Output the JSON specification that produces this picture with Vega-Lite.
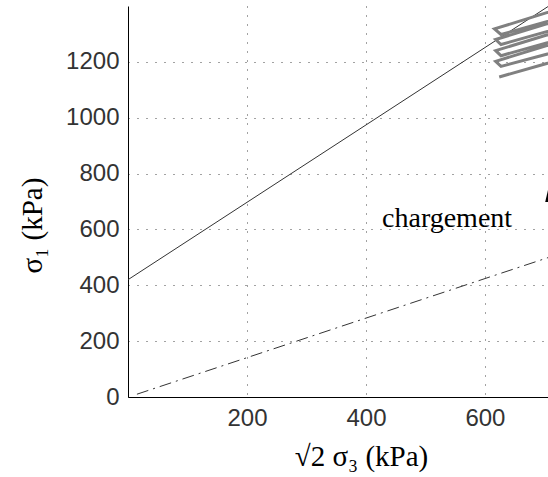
{
  "$schema": "https://vega.github.io/schema/vega-lite/v6.json",
  "width": 420,
  "height": 391,
  "autosize": "none",
  "padding": {"left": 128, "top": 6, "right": 0, "bottom": 80},
  "background": "white",
  "config": {"view": {"stroke": null}},
  "datasets": {
    "solid": [{"x": 0, "y": 420}, {"x": 706, "y": 1398}],
    "dashdot": [{"x": 15, "y": 10}, {"x": 706, "y": 499}],
    "loops": [
      {"o": 1, "x": 624, "y": 1146},
      {"o": 2, "x": 740, "y": 1216},
      {"o": 3, "x": 740, "y": 1248},
      {"o": 4, "x": 627, "y": 1184},
      {"o": 5, "x": 618, "y": 1202},
      {"o": 6, "x": 740, "y": 1282},
      {"o": 7, "x": 740, "y": 1290},
      {"o": 8, "x": 627, "y": 1222},
      {"o": 9, "x": 618, "y": 1240},
      {"o": 10, "x": 740, "y": 1320},
      {"o": 11, "x": 740, "y": 1330},
      {"o": 12, "x": 627, "y": 1262},
      {"o": 13, "x": 618, "y": 1280},
      {"o": 14, "x": 740, "y": 1360},
      {"o": 15, "x": 740, "y": 1366},
      {"o": 16, "x": 627, "y": 1298},
      {"o": 17, "x": 616, "y": 1318},
      {"o": 18, "x": 740, "y": 1400}
    ],
    "labels": [{"x": 427, "y": 609, "t": "chargement"}],
    "arrow": [{"x": 708, "y": 729}]
  },
  "encoding": {
    "x": {
      "field": "x", "type": "quantitative",
      "scale": {"domain": [0, 706], "nice": false, "zero": false},
      "axis": {
        "values": [200, 400, 600], "format": "d",
        "grid": true, "gridDash": [1, 8], "gridColor": "#444", "gridWidth": 1,
        "ticks": false, "domainColor": "#000", "domainWidth": 1,
        "labelFont": "Liberation Sans Narrow, Liberation Sans", "labelFontSize": 24, "labelColor": "#333",
        "labelPadding": 9,
        "title": "√2 σ₃ (kPa)", "titleFont": "Liberation Serif", "titleFontSize": 29,
        "titleFontWeight": "normal", "titleColor": "#000",
        "titleX": 233, "titleY": 68, "titleBaseline": "alphabetic", "titleAlign": "center"
      }
    },
    "y": {
      "field": "y", "type": "quantitative",
      "scale": {"domain": [0, 1400], "nice": false},
      "axis": {
        "values": [0, 200, 400, 600, 800, 1000, 1200], "format": "d",
        "grid": true, "gridDash": [1, 8], "gridColor": "#444", "gridWidth": 1,
        "ticks": false, "domainColor": "#000", "domainWidth": 1,
        "labelFont": "Liberation Sans Narrow, Liberation Sans", "labelFontSize": 24, "labelColor": "#333",
        "labelPadding": 9,
        "title": "σ₁ (kPa)", "titleFont": "Liberation Serif", "titleFontSize": 29,
        "titleFontWeight": "normal", "titleColor": "#000",
        "titleAngle": -90, "titleX": -96, "titleY": 219,
        "titleAlign": "center", "titleBaseline": "middle"
      }
    }
  },
  "layer": [
    {
      "data": {"name": "solid"},
      "mark": {"type": "line", "color": "#333", "strokeWidth": 1, "clip": true}
    },
    {
      "data": {"name": "dashdot"},
      "mark": {"type": "line", "color": "#333", "strokeWidth": 1, "strokeDash": [12, 5, 2, 5], "clip": true}
    },
    {
      "data": {"name": "loops"},
      "mark": {"type": "line", "color": "#808080", "strokeWidth": 3, "clip": true},
      "encoding": {"order": {"field": "o", "type": "quantitative"}}
    },
    {
      "data": {"name": "labels"},
      "mark": {"type": "text", "font": "Liberation Serif", "fontSize": 28, "align": "left", "baseline": "alphabetic", "color": "#000"},
      "encoding": {"text": {"field": "t"}}
    },
    {
      "data": {"name": "arrow"},
      "mark": {"type": "point", "shape": "M0,-1L0.47,1L-0.47,1Z", "filled": true, "color": "#000", "size": 289, "opacity": 1}
    }
  ]
}
